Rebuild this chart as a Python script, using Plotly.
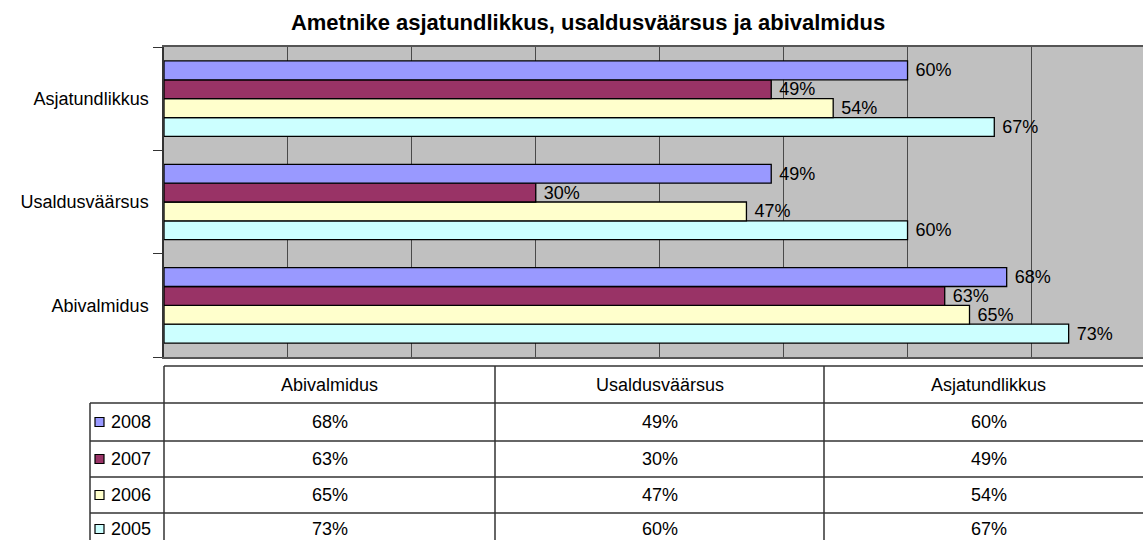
import plotly.graph_objects as go

# ---- data ----
categories = ["Abivalmidus", "Usaldusväärsus", "Asjatundlikkus"]
years = ["2008", "2007", "2006", "2005"]
v2008 = [0.68, 0.49, 0.60]
v2007 = [0.63, 0.30, 0.49]
v2006 = [0.65, 0.47, 0.54]
v2005 = [0.73, 0.60, 0.67]
colors = ["#9999FF", "#993366", "#FFFFCC", "#CCFFFF"]
title_text = "Ametnike asjatundlikkus, usaldusväärsus ja abivalmidus"

series = [v2008, v2007, v2006, v2005]
FONT = "Arial, Liberation Sans, sans-serif"
FS = 18

W, H = 1143, 540

# plot area in pixels
S_L, S_R, S_T, S_B = 164, 1143, 47, 357
ML = S_L
MT = S_T
MR = W - S_R
MB = H - S_B
pw = W - ML - MR
ph = H - MT - MB


def px_x(sx):
    return (sx - ML) / pw


def px_y(sy):
    return ((H - MB) - sy) / ph


fig = go.Figure()
# bottom-to-top in a group: 2005 first so 2008 is on top
for name, vals, col in reversed(list(zip(years, series, colors))):
    fig.add_trace(go.Bar(
        y=categories, x=vals, name=name, orientation="h",
        marker=dict(color=col, line=dict(color="#000000", width=1.3)),
        text=vals, texttemplate="\u00a0%{x:.0%}", textposition="outside",
        textfont=dict(family=FONT, size=FS, color="#000000"),
        constraintext="none", cliponaxis=False, showlegend=False,
    ))

shapes = []
annotations = []
line_col = "#333333"

# table geometry (pixels)
t_top, h_bot = 366, 403
row_lines = [403, 441, 477, 513, 549]
col_x = [164, 495, 824, 1153]
leg_left = 90

shapes.append(dict(type="line", xref="paper", yref="paper",
                   x0=px_x(col_x[0]), x1=px_x(W + 20), y0=px_y(t_top), y1=px_y(t_top),
                   line=dict(color=line_col, width=1.5)))
for ry in row_lines[:-1]:
    shapes.append(dict(type="line", xref="paper", yref="paper",
                       x0=px_x(leg_left), x1=px_x(W + 20), y0=px_y(ry), y1=px_y(ry),
                       line=dict(color=line_col, width=1.5)))
for cx in col_x[:-1]:
    shapes.append(dict(type="line", xref="paper", yref="paper",
                       x0=px_x(cx), x1=px_x(cx), y0=px_y(t_top), y1=px_y(H + 20),
                       line=dict(color=line_col, width=1.5)))
shapes.append(dict(type="line", xref="paper", yref="paper",
                   x0=px_x(leg_left), x1=px_x(leg_left), y0=px_y(h_bot), y1=px_y(H + 20),
                   line=dict(color=line_col, width=1.5)))

for i, cat in enumerate(categories):
    cx = (col_x[i] + col_x[i + 1]) / 2
    annotations.append(dict(xref="paper", yref="paper", x=px_x(cx), y=px_y((t_top + h_bot) / 2),
                            text=cat, showarrow=False, xanchor="center", yanchor="middle",
                            font=dict(family=FONT, size=FS, color="#000000")))

for r, (yr, vals, col) in enumerate(zip(years, series, colors)):
    cy = min((row_lines[r] + row_lines[r + 1]) / 2, 529)
    shapes.append(dict(type="rect", xref="paper", yref="paper",
                       x0=px_x(95), x1=px_x(104), y0=px_y(cy - 4.5), y1=px_y(cy + 4.5),
                       fillcolor=col, line=dict(color="#000000", width=1.2)))
    annotations.append(dict(xref="paper", yref="paper", x=px_x(109), y=px_y(cy),
                            text=yr, showarrow=False, xanchor="left", yanchor="middle",
                            font=dict(family=FONT, size=FS, color="#000000")))
    for i, v in enumerate(vals):
        cx = (col_x[i] + col_x[i + 1]) / 2
        annotations.append(dict(xref="paper", yref="paper", x=px_x(cx), y=px_y(cy),
                                text=f"{round(v * 100)}%", showarrow=False,
                                xanchor="center", yanchor="middle",
                                font=dict(family=FONT, size=FS, color="#000000")))

fig.update_layout(
    width=W, height=H,
    margin=dict(l=ML, r=MR, t=MT, b=MB, pad=0, autoexpand=False),
    paper_bgcolor="#FFFFFF", plot_bgcolor="#C0C0C0",
    barmode="group", bargap=0.27, bargroupgap=0,
    title=dict(text=f"<b>{title_text}</b>", x=588 / W, xanchor="center",
               y=1 - 22 / H, yanchor="middle", yref="container",
               font=dict(family=FONT, size=22, color="#000000")),
    xaxis=dict(range=[0, 0.79], dtick=0.1, showticklabels=False, ticks="",
               showgrid=True, gridcolor="#4a4a4a", gridwidth=1, zeroline=False,
               showline=True, linecolor="#555555", linewidth=1.5, mirror=True,
               fixedrange=True),
    yaxis=dict(categoryorder="array", categoryarray=categories,
               range=[-0.5, 2.5], tickson="boundaries", ticks="outside",
               ticklen=9, tickcolor=line_col, tickwidth=1.2,
               ticklabelstandoff=10,
               showline=True, linecolor=line_col, linewidth=1.5,
               showgrid=False, zeroline=False,
               tickfont=dict(family=FONT, size=FS, color="#000000")),
    shapes=shapes, annotations=annotations,
    font=dict(family=FONT, size=FS, color="#000000"),
)

fig.write_html(
    "out.html",
    config={"displayModeBar": False},
    post_script="document.body.style.margin='0';document.body.style.overflow='hidden';",
)
